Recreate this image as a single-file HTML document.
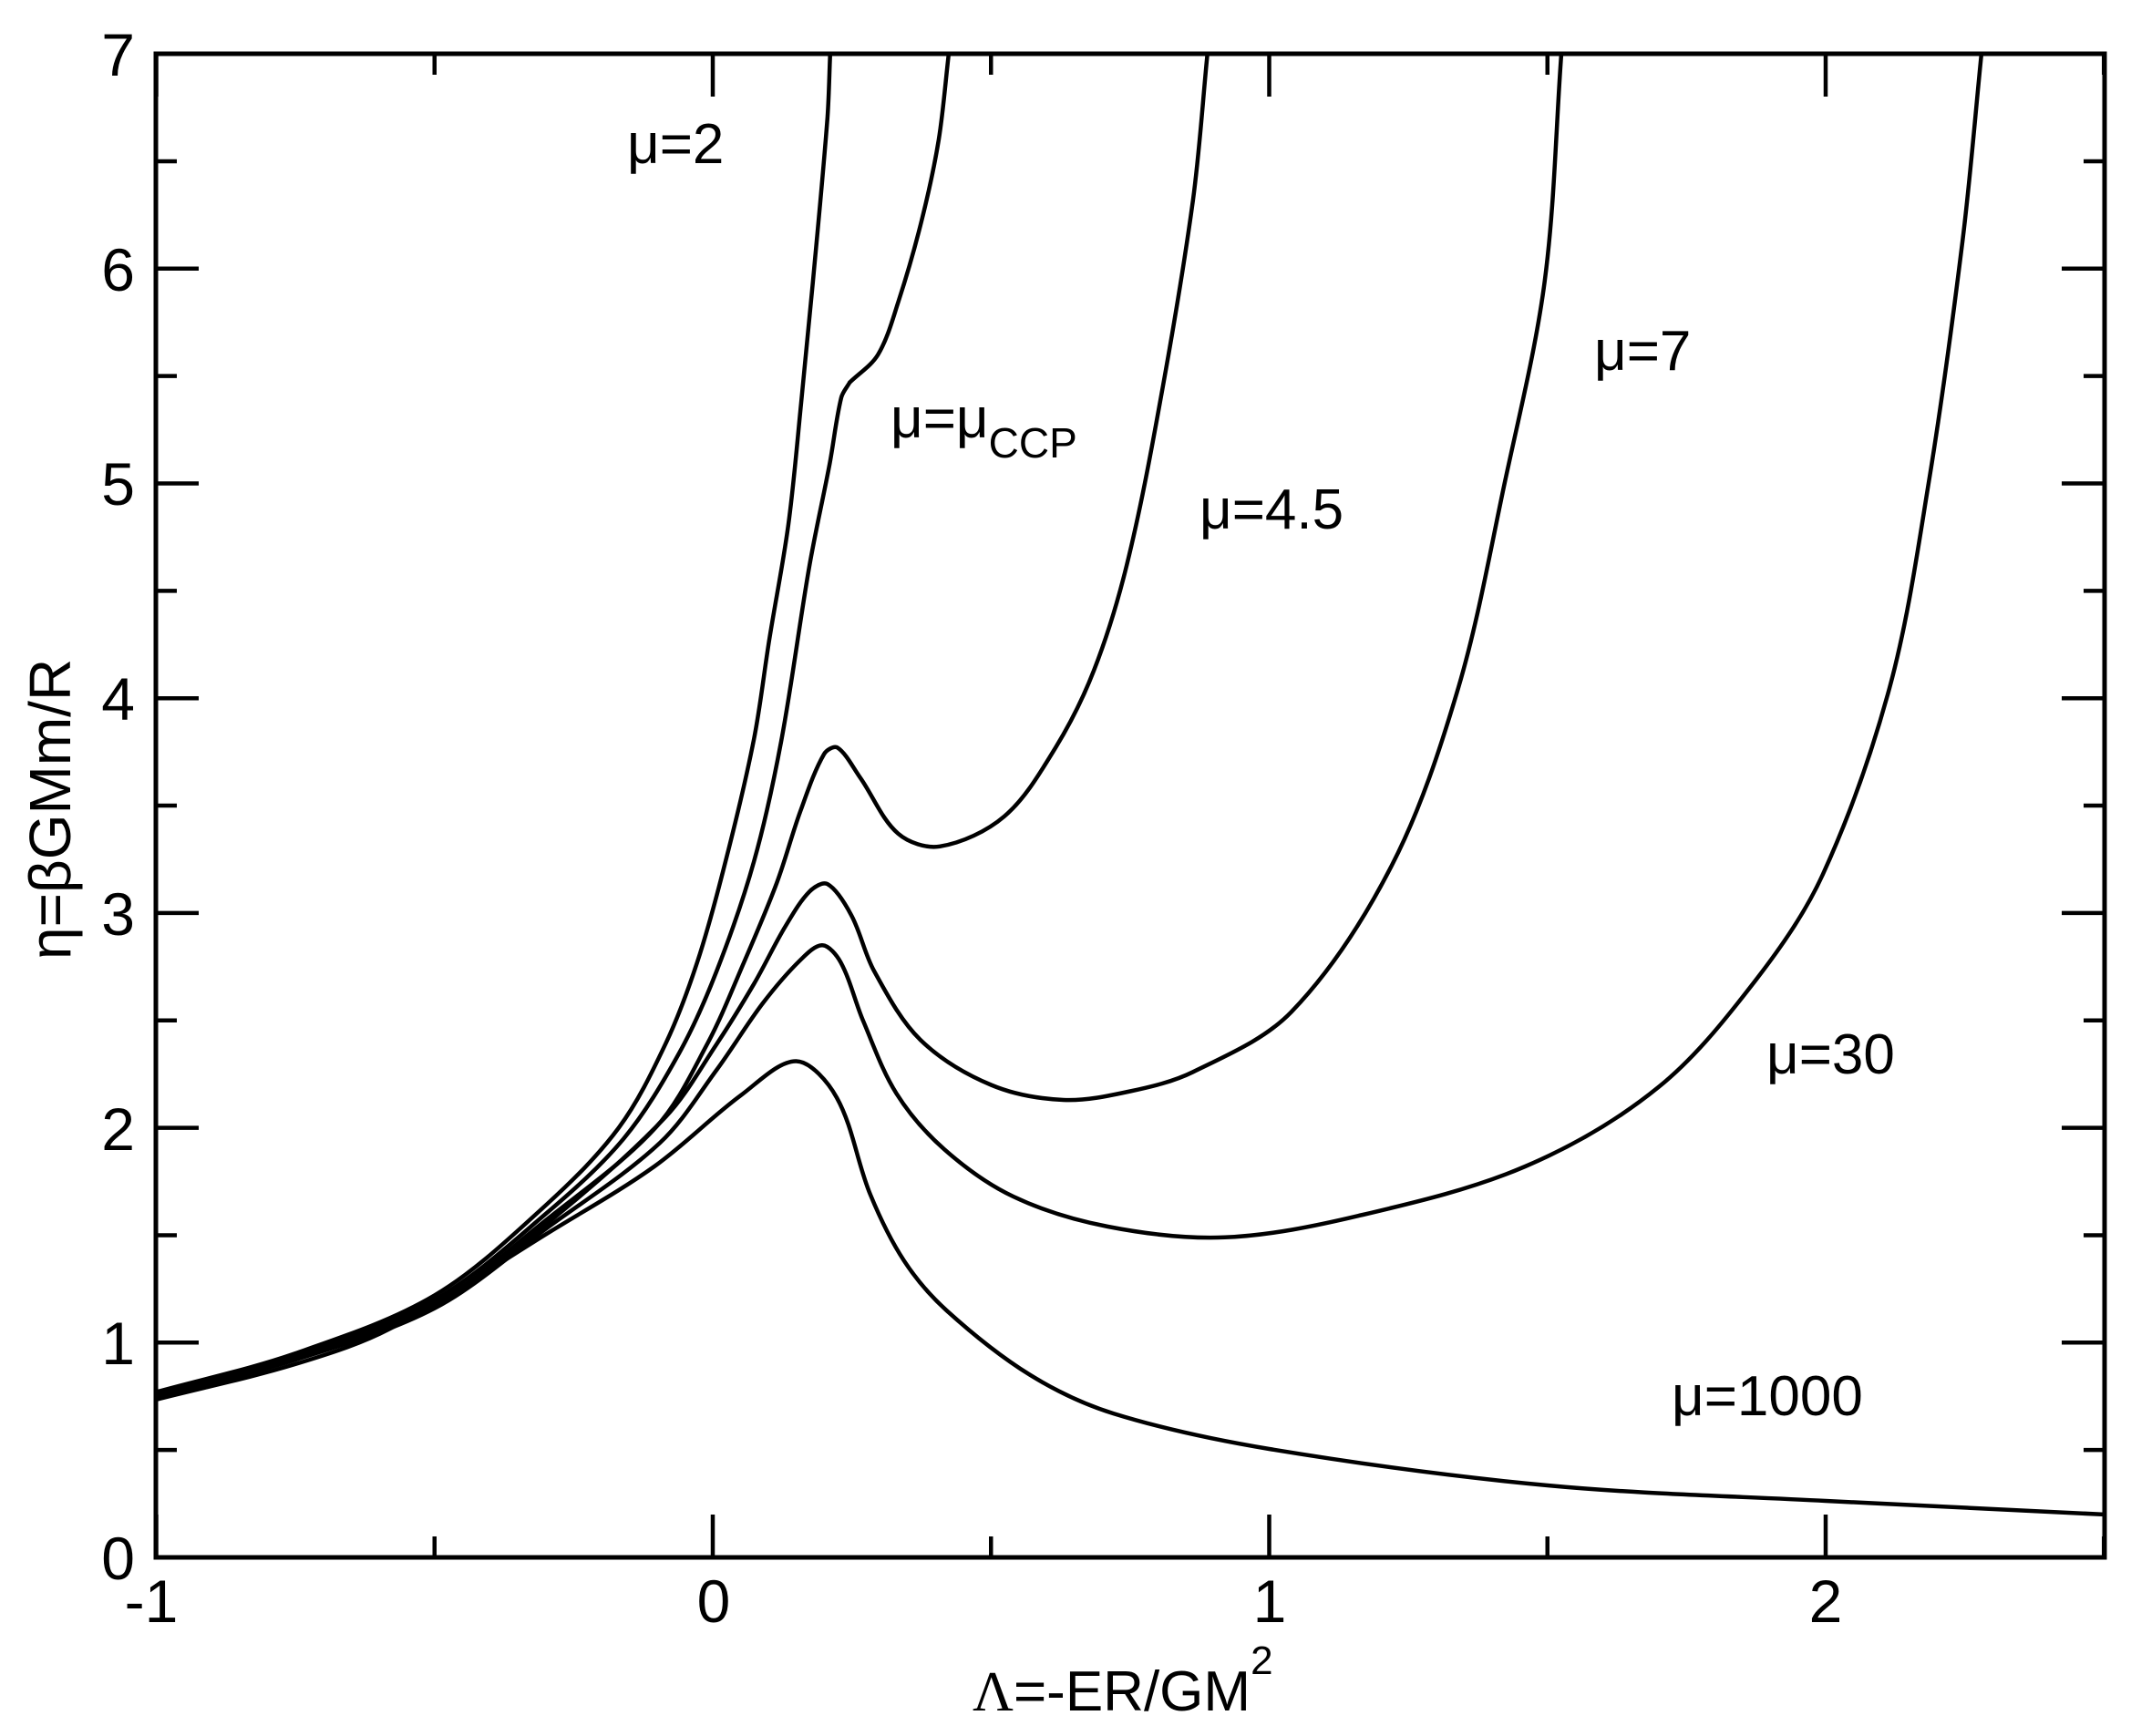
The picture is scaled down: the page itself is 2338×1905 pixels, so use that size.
<!DOCTYPE html>
<html><head><meta charset="utf-8"><style>
html,body{margin:0;padding:0;background:#fff}
svg{display:block}
text{font-family:"Liberation Sans",sans-serif;fill:#000}
</style></head><body>
<svg id="s" width="2338" height="1905" viewBox="0 0 2338 1905" xmlns="http://www.w3.org/2000/svg">
<rect x="0" y="0" width="2338" height="1905" fill="#fff"/>
<g id="ticks" stroke="#000" stroke-width="4.5"></g>
<g id="curves" fill="none" stroke="#000" stroke-width="4.5" stroke-linejoin="round" stroke-linecap="round"></g>
<rect x="171" y="59" width="2138" height="1650" fill="none" stroke="#000" stroke-width="5"/>
<g font-size="66" text-anchor="end">
<text x="148" y="1733">0</text>
<text x="148" y="1497">1</text>
<text x="148" y="1262">2</text>
<text x="148" y="1026">3</text>
<text x="148" y="790">4</text>
<text x="148" y="554">5</text>
<text x="148" y="319">6</text>
<text x="148" y="83">7</text>
</g>
<g font-size="66" text-anchor="middle">
<text x="166" y="1780">-1</text>
<text x="783" y="1780">0</text>
<text x="1393" y="1780">1</text>
<text x="2003" y="1780">2</text>
</g>
<text x="1067" y="1877" font-size="62"><tspan font-family="Liberation Serif">Λ</tspan>=-ER/GM<tspan font-size="44" dy="-40">2</tspan></text>
<text transform="translate(77,1053) rotate(-90)" font-size="64">η=βGMm/R</text>
<g font-size="62">
<text x="688" y="179">μ=2</text>
<text x="977" y="480">μ=μ<tspan font-size="46" dy="22">CCP</tspan></text>
<text x="1316" y="580">μ=4.5</text>
<text x="1749" y="406">μ=7</text>
<text x="1938" y="1178">μ=30</text>
<text x="1834" y="1553">μ=1000</text>
</g>
</svg>
<script>
(function(){
var NS="http://www.w3.org/2000/svg";
var X=function(x){return 782+610.5*x;}, Y=function(y){return 1709-235.7*y;};
var tg=document.getElementById('ticks');
function ln(x1,y1,x2,y2){var l=document.createElementNS(NS,'line');l.setAttribute('x1',x1);l.setAttribute('y1',y1);l.setAttribute('x2',x2);l.setAttribute('y2',y2);tg.appendChild(l);}
for(var i=0;i<=14;i++){var y=Y(i/2),L=(i%2==0)?47:23;ln(171,y,171+L,y);ln(2309,y,2309-L,y);}
for(var j=-2;j<=5;j++){var x=X(j/2),L=(j%2==0)?47:23;ln(x,1709,x,1709-L);ln(x,59,x,59+L);}
var curves=[
// mu=2
[[[-1,0.77],[-0.75,0.95],[-0.5,1.22],[-0.3,1.64],[-0.169,2.0],[-0.085,2.39],[-0.028,2.77],[0.023,3.24],[0.074,3.81],[0.102,4.28],[0.136,4.81],[0.159,5.38],[0.18,5.94],[0.206,6.70],[0.211,7.0]]],
// mu=CCP
[[[-1,0.765],[-0.75,0.94],[-0.5,1.2],[-0.3,1.6],[-0.16,1.95],[-0.06,2.35],[0.007,2.73],[0.074,3.24],[0.123,3.8],[0.174,4.62],[0.21,5.09],[0.231,5.40],[0.246,5.47]],
 [[0.246,5.47],[0.297,5.6],[0.334,5.85],[0.376,6.23],[0.406,6.6],[0.424,7.0]]],
// mu=4.5
[[[-1,0.76],[-0.75,0.93],[-0.5,1.18],[-0.3,1.57],[-0.103,2.0],[-0.01,2.39],[0.056,2.77],[0.115,3.14],[0.157,3.47],[0.2,3.74],[0.224,3.77],[0.265,3.63],[0.333,3.37],[0.408,3.31],[0.524,3.45],[0.616,3.77],[0.685,4.13],[0.744,4.62],[0.804,5.38],[0.863,6.32],[0.889,7.0]]],
// mu=7
[[[-1,0.755],[-0.75,0.925],[-0.5,1.17],[-0.3,1.55],[-0.085,2.05],[0.007,2.39],[0.074,2.67],[0.131,2.94],[0.174,3.1],[0.206,3.135],[0.249,2.99],[0.29,2.73],[0.373,2.41],[0.5,2.2],[0.63,2.13],[0.75,2.17],[0.863,2.26],[1.04,2.54],[1.22,3.22],[1.34,4.05],[1.423,5.0],[1.495,5.94],[1.525,7.0]]],
// mu=30
[[[-1,0.75],[-0.75,0.92],[-0.5,1.16],[-0.3,1.53],[-0.095,1.93],[0.007,2.27],[0.09,2.58],[0.157,2.78],[0.197,2.85],[0.23,2.77],[0.27,2.5],[0.33,2.16],[0.416,1.9],[0.54,1.68],[0.71,1.54],[0.92,1.49],[1.16,1.59],[1.46,1.82],[1.70,2.19],[1.875,2.69],[1.995,3.18],[2.115,4.05],[2.185,5.0],[2.246,6.13],[2.28,7.0]]],
// mu=1000
[[[-1,0.735],[-0.75,0.9],[-0.58,1.065],[-0.29,1.52],[-0.105,1.82],[0.05,2.15],[0.15,2.31],[0.223,2.14],[0.283,1.69],[0.344,1.38],[0.42,1.15],[0.57,0.85],[0.72,0.67],[1.0,0.505],[1.5,0.335],[2.0,0.263],[2.5,0.2]]]
];
function seg(pts){
 var p=pts.map(function(a){return [X(a[0]),Y(a[1])];});
 var n=p.length,d=[],m=[];
 for(var i=0;i<n-1;i++)d.push(Math.hypot(p[i+1][0]-p[i][0],p[i+1][1]-p[i][1])||1);
 for(var i=0;i<n;i++){
  if(i==0){m.push([(p[1][0]-p[0][0])/d[0],(p[1][1]-p[0][1])/d[0]]);}
  else if(i==n-1){m.push([(p[i][0]-p[i-1][0])/d[i-1],(p[i][1]-p[i-1][1])/d[i-1]]);}
  else{var s=d[i-1]+d[i];m.push([(p[i+1][0]-p[i-1][0])/s,(p[i+1][1]-p[i-1][1])/s]);}
 }
 var str='M'+p[0][0].toFixed(1)+','+p[0][1].toFixed(1);
 for(var i=0;i<n-1;i++){
  var k=d[i]/3;
  str+=' C'+(p[i][0]+m[i][0]*k).toFixed(1)+','+(p[i][1]+m[i][1]*k).toFixed(1)+' '+(p[i+1][0]-m[i+1][0]*k).toFixed(1)+','+(p[i+1][1]-m[i+1][1]*k).toFixed(1)+' '+p[i+1][0].toFixed(1)+','+p[i+1][1].toFixed(1);
 }
 return str;
}
var cg=document.getElementById('curves');
curves.forEach(function(c){
 c.forEach(function(pts){var e=document.createElementNS(NS,'path');e.setAttribute('d',seg(pts));cg.appendChild(e);});
});
})();
</script>
</body></html>
